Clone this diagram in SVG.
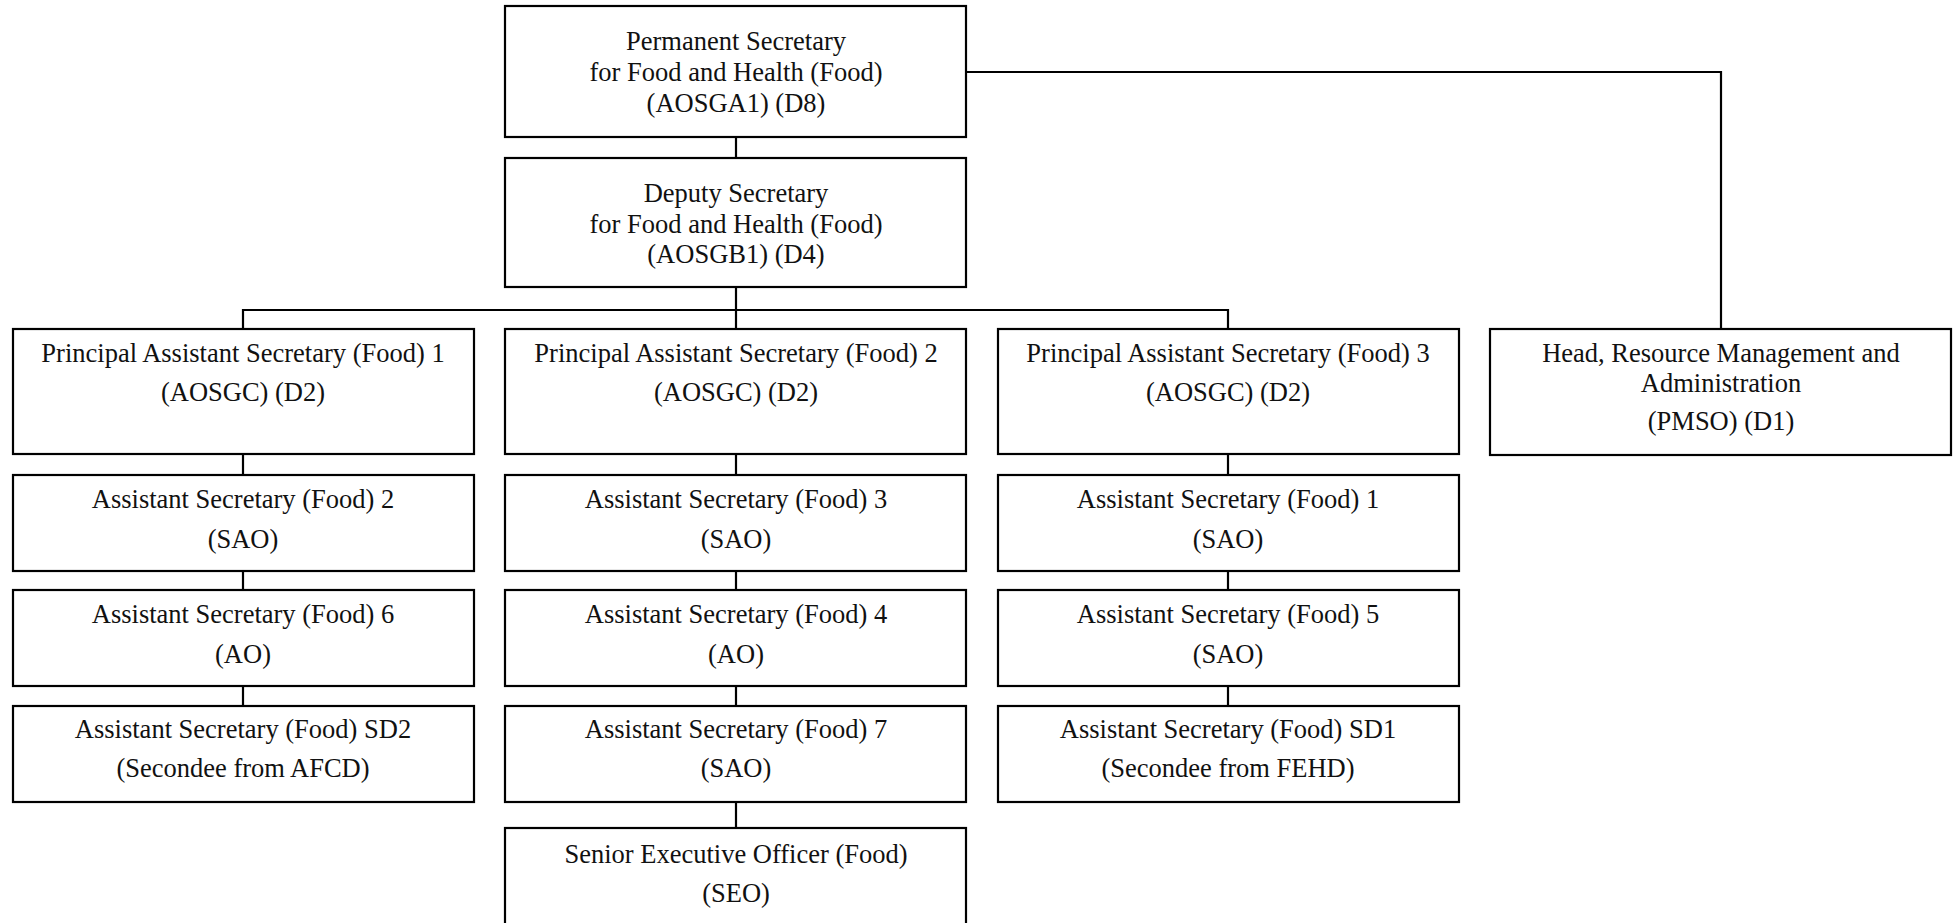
<svg xmlns="http://www.w3.org/2000/svg" width="1957" height="923" viewBox="0 0 1957 923">
<style>
.box{fill:#fff;stroke:#000;stroke-width:2.2}
.ln{fill:none;stroke:#000;stroke-width:2.2}
text{font-family:"Liberation Serif","Times New Roman",serif;font-size:26.5px;fill:#111;text-anchor:middle}
</style>
<rect width="1957" height="923" fill="#fff"/>
<g id="connectors">
<path class="ln" d="M736 137V158"/>
<path class="ln" d="M966 72H1721V328"/>
<path class="ln" d="M736 287V310"/>
<path class="ln" d="M243 329V310H1228V329"/>
<path class="ln" d="M736 310V329"/>
<path class="ln" d="M243 454V475M243 571V590M243 686V706"/>
<path class="ln" d="M736 454V475M736 571V590M736 686V706M736 802V828"/>
<path class="ln" d="M1228 454V475M1228 571V590M1228 686V706"/>
</g>
<g id="ps"><rect class="box" x="505" y="6" width="461" height="131"/><text x="736" y="50">Permanent Secretary</text><text x="736" y="81">for Food and Health (Food)</text><text x="736" y="112">(AOSGA1) (D8)</text></g>
<g id="ds"><rect class="box" x="505" y="158" width="461" height="129"/><text x="736" y="202">Deputy Secretary</text><text x="736" y="233">for Food and Health (Food)</text><text x="736" y="263">(AOSGB1) (D4)</text></g>
<g id="pas1"><rect class="box" x="13" y="329" width="461" height="125"/><text x="243" y="362">Principal Assistant Secretary (Food) 1</text><text x="243" y="401">(AOSGC) (D2)</text></g>
<g id="pas2"><rect class="box" x="505" y="329" width="461" height="125"/><text x="736" y="362">Principal Assistant Secretary (Food) 2</text><text x="736" y="401">(AOSGC) (D2)</text></g>
<g id="pas3"><rect class="box" x="998" y="329" width="461" height="125"/><text x="1228" y="362">Principal Assistant Secretary (Food) 3</text><text x="1228" y="401">(AOSGC) (D2)</text></g>
<g id="head"><rect class="box" x="1490" y="329" width="461" height="126"/><text x="1721" y="362">Head, Resource Management and</text><text x="1721" y="392">Administration</text><text x="1721" y="430">(PMSO) (D1)</text></g>
<g id="as2"><rect class="box" x="13" y="475" width="461" height="96"/><text x="243" y="508">Assistant Secretary (Food) 2</text><text x="243" y="548">(SAO)</text></g>
<g id="as6"><rect class="box" x="13" y="590" width="461" height="96"/><text x="243" y="623">Assistant Secretary (Food) 6</text><text x="243" y="663">(AO)</text></g>
<g id="sd2"><rect class="box" x="13" y="706" width="461" height="96"/><text x="243" y="738">Assistant Secretary (Food) SD2</text><text x="243" y="777">(Secondee from AFCD)</text></g>
<g id="as3"><rect class="box" x="505" y="475" width="461" height="96"/><text x="736" y="508">Assistant Secretary (Food) 3</text><text x="736" y="548">(SAO)</text></g>
<g id="as4"><rect class="box" x="505" y="590" width="461" height="96"/><text x="736" y="623">Assistant Secretary (Food) 4</text><text x="736" y="663">(AO)</text></g>
<g id="as7"><rect class="box" x="505" y="706" width="461" height="96"/><text x="736" y="738">Assistant Secretary (Food) 7</text><text x="736" y="777">(SAO)</text></g>
<g id="seo"><rect class="box" x="505" y="828" width="461" height="100"/><text x="736" y="863">Senior Executive Officer (Food)</text><text x="736" y="902">(SEO)</text></g>
<g id="as1"><rect class="box" x="998" y="475" width="461" height="96"/><text x="1228" y="508">Assistant Secretary (Food) 1</text><text x="1228" y="548">(SAO)</text></g>
<g id="as5"><rect class="box" x="998" y="590" width="461" height="96"/><text x="1228" y="623">Assistant Secretary (Food) 5</text><text x="1228" y="663">(SAO)</text></g>
<g id="sd1"><rect class="box" x="998" y="706" width="461" height="96"/><text x="1228" y="738">Assistant Secretary (Food) SD1</text><text x="1228" y="777">(Secondee from FEHD)</text></g>
</svg>
